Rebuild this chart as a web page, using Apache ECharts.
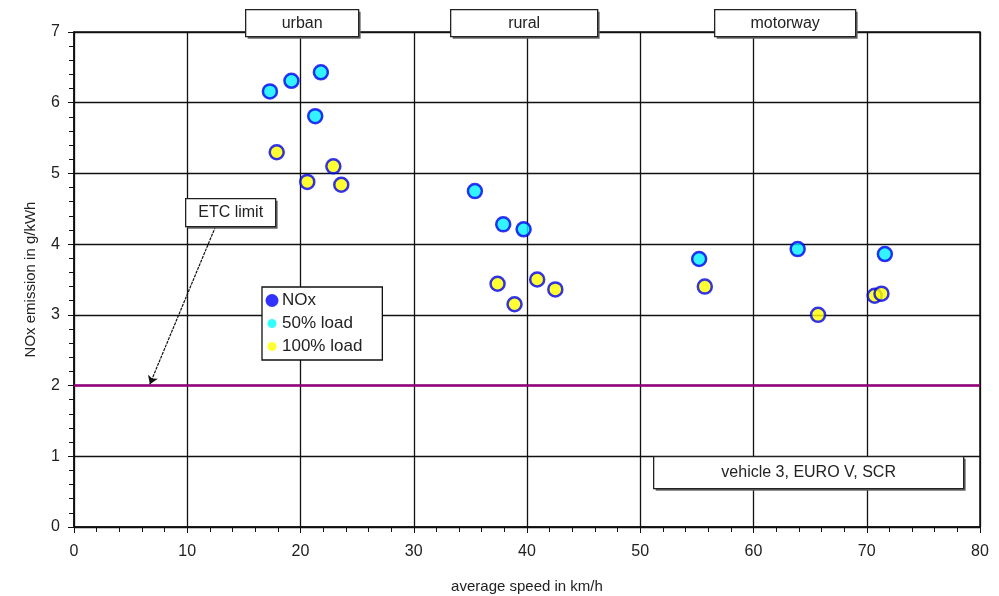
<!DOCTYPE html>
<html><head><meta charset="utf-8">
<script src="https://cdn.jsdelivr.net/npm/echarts@6/dist/echarts.min.js"></script>
<style>html,body{margin:0;padding:0;background:#fff}#c{width:999px;height:596px}</style>
</head><body><div id="c"></div>
<script>
const load50 = [[17.3,6.16],[19.2,6.31],[21.8,6.43],[21.3,5.81],[35.4,4.75],[37.9,4.28],[39.7,4.21],[55.2,3.79],[63.9,3.93],[71.6,3.86]];
const load100 = [[17.9,5.30],[20.6,4.88],[22.9,5.10],[23.6,4.84],[37.4,3.44],[38.9,3.15],[40.9,3.50],[42.5,3.36],[55.7,3.40],[65.7,3.00],[70.7,3.27],[71.3,3.30]];
const etcLimit = 2;
const etcArrow = [[12.5,4.25],[6.7,2.02]];
const xTicks = [0,10,20,30,40,50,60,70,80];
const yTicks = [0,1,2,3,4,5,6,7];
const phaseLabels = ['urban','rural','motorway'];
const noteLabel = 'vehicle 3, EURO V, SCR';

const font = 'Liberation Sans, Arial, sans-serif';
const chart = echarts.init(document.getElementById('c'));
function box(x,y,w,h,text){
  return {type:'group',left:x,top:y,z:100,children:[
    {type:'rect',z:100,shape:{x:2,y:2,width:w,height:h},style:{fill:'#666'}},
    {type:'rect',z:101,shape:{x:0,y:0,width:w,height:h},style:{fill:'#fff',stroke:'#222',lineWidth:1.3}},
    {type:'text',z:102,style:{text:text,x:w/2,y:h/2,align:'center',verticalAlign:'middle',font:'16px '+font,fill:'#222'}}
  ]};
}
function dot(r,color){
  const svg = '<svg xmlns="http://www.w3.org/2000/svg" width="16" height="16" viewBox="0 0 16 16"><circle cx="8" cy="8" r="'+r+'" fill="'+color+'"/></svg>';
  return 'image://data:image/svg+xml;charset=utf-8,' + encodeURIComponent(svg);
}
chart.setOption({
  animation:false,
  backgroundColor:'#fff',
  grid:{left:74,right:19,top:32,bottom:69,show:true,borderColor:'#111',borderWidth:1.5,
    containLabel:false,outerBoundsMode:'none'},
  xAxis:{type:'value',min:xTicks[0],max:xTicks[xTicks.length-1],interval:10,
    name:'average speed in km/h',nameLocation:'middle',nameGap:52,
    nameTextStyle:{fontFamily:font,fontSize:15,color:'#222'},
    axisLine:{lineStyle:{color:'#111',width:1.5}},
    axisTick:{show:true,length:6,lineStyle:{color:'#111'}},
    minorTick:{show:true,splitNumber:5,length:5,lineStyle:{color:'#111'}},
    splitLine:{show:true,lineStyle:{color:'#111',width:1.3}},
    axisLabel:{fontFamily:font,fontSize:16,color:'#222',margin:17}},
  yAxis:{type:'value',min:yTicks[0],max:yTicks[yTicks.length-1],interval:1,
    name:'NOx emission in g/kWh',nameLocation:'middle',nameGap:36,
    nameTextStyle:{fontFamily:font,fontSize:15,color:'#222'},
    axisLine:{lineStyle:{color:'#111',width:1.5}},
    axisTick:{show:true,length:6,lineStyle:{color:'#111'}},
    minorTick:{show:true,splitNumber:5,length:5,lineStyle:{color:'#111'}},
    splitLine:{show:true,lineStyle:{color:'#111',width:1.3}},
    axisLabel:{fontFamily:font,fontSize:16,color:'#222',margin:14}},
  legend:{left:262,top:287,orient:'vertical',itemGap:6,padding:[5,20,5,2],
    backgroundColor:'#fff',borderColor:'#111',borderWidth:1.3,
    itemWidth:16,itemHeight:16,
    textStyle:{fontFamily:font,fontSize:17,color:'#222',padding:[0,0,0,-3]},
    data:[{name:'NOx',icon:dot(6.5,'#0000ff')},
          {name:'50% load',icon:dot(4.5,'#00ffff')},
          {name:'100% load',icon:dot(4.5,'#ffff00')}]},
  series:[
    {name:'NOx',type:'scatter',data:[],itemStyle:{color:'#0000ee'}},
    {name:'50% load',type:'scatter',data:load50,symbolSize:14,z:5,
      itemStyle:{color:'#00f0ff',borderColor:'#0000ee',borderWidth:2.5}},
    {name:'100% load',type:'scatter',data:load100,symbolSize:14,z:5,
      itemStyle:{color:'#ffff00',borderColor:'#0000ee',borderWidth:2.5}},
    {name:'limit',type:'line',data:[],
      markLine:{silent:true,symbol:'none',label:{show:false},
        lineStyle:{color:'#990080',width:2.5,type:'solid'},
        data:[{yAxis:etcLimit}]}},
    {name:'arrow',type:'line',data:[],
      markLine:{silent:true,symbol:['none','arrow'],symbolSize:8,label:{show:false},
        lineStyle:{color:'#111',width:1.2,type:[3,1]},
        data:[[{coord:etcArrow[0]},{coord:etcArrow[1]}]]}}
  ],
  graphic:[
    box(245,9,113,27,phaseLabels[0]),
    box(450,9,147,27,phaseLabels[1]),
    box(714,9,141,27,phaseLabels[2]),
    box(653,456,310,32,noteLabel),
    box(185,198,90,28,'ETC limit')
  ]
});
</script></body></html>
